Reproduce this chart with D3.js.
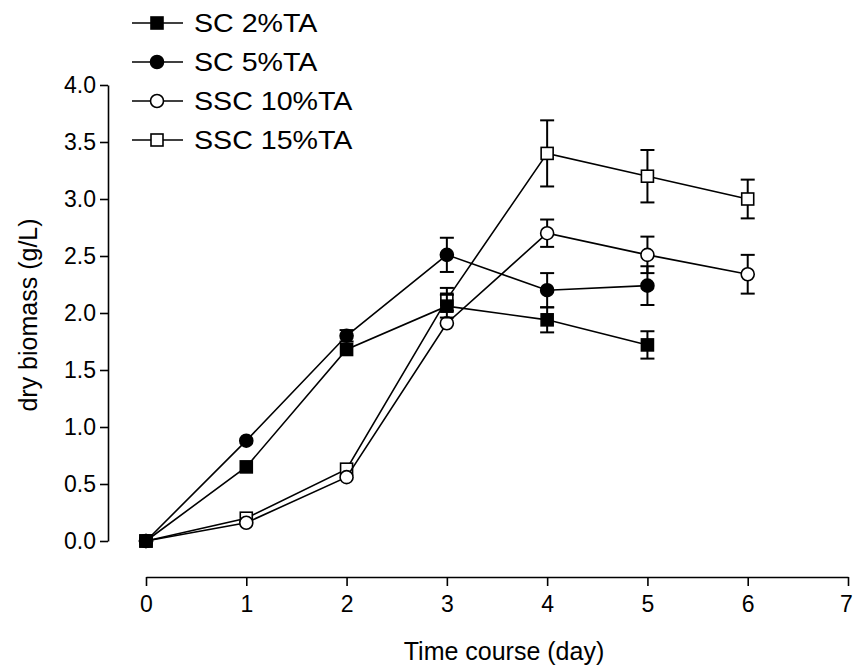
<!DOCTYPE html>
<html lang="en">
<head>
    <meta charset="UTF-8">
    <title>Dry biomass</title>
    <script src="https://d3js.org/d3.v7.min.js"></script>
    <style>
        body { margin: 0; background: #fff; }
        text { font-family: "Liberation Sans", Arial, sans-serif; fill: #000; }
        .axis path, .axis line { stroke: #000; stroke-width: 1.6; }
        .axis text { font-size: 23px; }
    </style>
</head>
<body>
<script>
    // data
    var days = [0, 1, 2, 3, 4, 5, 6];
    var seriesNames = ["SC 2%TA", "SC 5%TA", "SSC 10%TA", "SSC 15%TA"];
    var sc2 = [0.0, 0.65, 1.68, 2.06, 1.94, 1.72];
    var sc2Err = [0, 0.02, 0.04, 0.10, 0.11, 0.12];
    var sc5 = [0.0, 0.88, 1.80, 2.51, 2.20, 2.24];
    var sc5Err = [0, 0.02, 0.05, 0.15, 0.15, 0.17];
    var ssc10 = [0.0, 0.16, 0.56, 1.91, 2.70, 2.51, 2.34];
    var ssc10Err = [0, 0.02, 0.02, 0.03, 0.12, 0.16, 0.17];
    var ssc15 = [0.0, 0.20, 0.63, 2.12, 3.40, 3.20, 3.00];
    var ssc15Err = [0, 0.02, 0.03, 0.10, 0.29, 0.23, 0.17];
    var yTicks = [0, 0.5, 1.0, 1.5, 2.0, 2.5, 3.0, 3.5, 4.0];
    var xTicks = [0, 1, 2, 3, 4, 5, 6, 7];

    var series = [
        {name: seriesNames[0], values: sc2, err: sc2Err, shape: "square", fill: "#000"},
        {name: seriesNames[1], values: sc5, err: sc5Err, shape: "circle", fill: "#000"},
        {name: seriesNames[2], values: ssc10, err: ssc10Err, shape: "circle", fill: "#fff"},
        {name: seriesNames[3], values: ssc15, err: ssc15Err, shape: "square", fill: "#fff"}
    ];

    var width = 854, height = 666;
    var svg = d3.select("body").append("svg")
        .attr("width", width)
        .attr("height", height);

    var x = d3.scaleLinear().domain([0, 7]).range([146, 848]);
    var y = d3.scaleLinear().domain([0, 4]).range([541, 85]);

    // Y axis
    svg.append("g")
        .attr("class", "axis")
        .attr("transform", "translate(108,0)")
        .call(d3.axisLeft(y).tickValues(yTicks).tickFormat(d3.format(".1f"))
            .tickSizeInner(8).tickSizeOuter(0).tickPadding(4));

    // X axis
    var xAxis = svg.append("g")
        .attr("class", "axis")
        .attr("transform", "translate(0,577)")
        .call(d3.axisBottom(x).tickValues(xTicks).tickFormat(d3.format("d"))
            .tickSizeInner(9).tickSizeOuter(0).tickPadding(10));
    // keep the last label inside the page
    xAxis.selectAll(".tick:last-of-type text").attr("dx", "-2");

    // axis titles
    svg.append("text")
        .attr("x", 504)
        .attr("y", 660)
        .attr("text-anchor", "middle")
        .style("font-size", "25px")
        .text("Time course (day)");

    svg.append("text")
        .attr("transform", "translate(37,315) rotate(-90)")
        .attr("text-anchor", "middle")
        .style("font-size", "25px")
        .text("dry biomass (g/L)");

    var line = d3.line()
        .x(function(d, i) { return x(days[i]); })
        .y(function(d) { return y(d); });

    function drawMarker(g, shape, fill, cx, cy) {
        if (shape === "square") {
            g.append("rect")
                .attr("x", cx - 6).attr("y", cy - 6)
                .attr("width", 12).attr("height", 12)
                .attr("fill", fill).attr("stroke", "#000").attr("stroke-width", 1.6);
        } else {
            g.append("circle")
                .attr("cx", cx).attr("cy", cy).attr("r", 6.5)
                .attr("fill", fill).attr("stroke", "#000").attr("stroke-width", 1.6);
        }
    }

    // draw in reverse so SC 2%TA ends on top
    series.slice().reverse().forEach(function(s) {
        var g = svg.append("g");
        g.append("path")
            .attr("d", line(s.values))
            .attr("fill", "none")
            .attr("stroke", "#000")
            .attr("stroke-width", 1.6);

        s.values.forEach(function(v, i) {
            var e = s.err[i];
            if (e > 0.04) {
                var cx = x(days[i]);
                var eb = g.append("g").attr("stroke", "#000").attr("stroke-width", 2);
                eb.append("line").attr("x1", cx).attr("x2", cx).attr("y1", y(v + e)).attr("y2", y(v - e));
                eb.append("line").attr("x1", cx - 7).attr("x2", cx + 7).attr("y1", y(v + e)).attr("y2", y(v + e));
                eb.append("line").attr("x1", cx - 7).attr("x2", cx + 7).attr("y1", y(v - e)).attr("y2", y(v - e));
            }
        });
        s.values.forEach(function(v, i) {
            drawMarker(g, s.shape, s.fill, x(days[i]), y(v));
        });
    });

    // legend
    var legend = svg.append("g");
    series.forEach(function(s, i) {
        var ly = 23 + i * 39;
        legend.append("line")
            .attr("x1", 132).attr("x2", 183)
            .attr("y1", ly).attr("y2", ly)
            .attr("stroke", "#000").attr("stroke-width", 1.6);
        drawMarker(legend, s.shape, s.fill, 157, ly);
        legend.append("text")
            .attr("transform", "translate(194," + (ly + 9) + ") scale(1.1,1)")
            .style("font-size", "26px")
            .text(s.name);
    });
</script>
</body>
</html>
